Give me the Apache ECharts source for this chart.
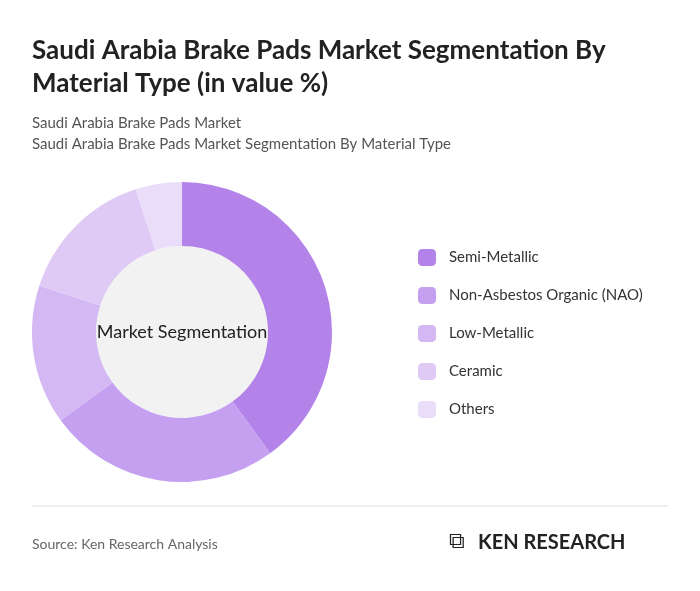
<!DOCTYPE html>
<html>
<head>
<meta charset="utf-8">
<script src="https://cdn.jsdelivr.net/npm/echarts@6/dist/echarts.min.js"></script>
<style>
  body { margin: 0; background: #fff; }
  #chart { width: 700px; height: 591px; }
</style>
</head>
<body>
<div id="chart"></div>
<script>
// 数据
var categories = ['Semi-Metallic', 'Non-Asbestos Organic (NAO)', 'Low-Metallic', 'Ceramic', 'Others'];
var shares = [40, 25, 15, 15, 5];
var colors = ['#b383ea', '#c59ff0', '#d4b8f3', '#dfcaf6', '#e9ddf9'];

var myChart = echarts.init(document.getElementById('chart'));
var font = 'Lato, "Noto Sans", sans-serif';

myChart.setOption({
    textStyle: { fontFamily: font },
    title: [
        { text: 'Saudi Arabia Brake Pads Market Segmentation By\nMaterial Type (in value %)', left: 27, top: 29,
          textStyle: { fontSize: 26, fontWeight: 'bold', color: '#222', lineHeight: 33, fontFamily: font } },
        { text: 'Saudi Arabia Brake Pads Market\nSaudi Arabia Brake Pads Market Segmentation By Material Type', left: 27, top: 108,
          textStyle: { fontSize: 15, fontWeight: 'normal', color: '#555', lineHeight: 21, fontFamily: font } },
        { text: 'Source: Ken Research Analysis', left: 27, top: 532,
          textStyle: { fontSize: 14, fontWeight: 'normal', color: '#666', fontFamily: font } }
    ],
    legend: {
        orient: 'vertical', left: 413, top: 244, itemGap: 21,
        itemWidth: 18, itemHeight: 17, icon: 'roundRect',
        textStyle: { fontSize: 15, color: '#333', fontFamily: font, padding: [0, 0, 0, 8] },
        data: categories
    },
    graphic: [
        { type: 'line', shape: { x1: 32, y1: 506, x2: 668, y2: 506 }, style: { stroke: '#ddd', lineWidth: 1 } },
        { type: 'text', left: 449, top: 531, style: { text: '⧉', fontSize: 22, fill: '#222' } },
        { type: 'text', left: 478, top: 533, style: { text: 'KEN RESEARCH', fontSize: 20, fontWeight: 'bold', fill: '#222', fontFamily: font } }
    ],
    series: [
        {
            type: 'pie', radius: [0, 86], center: [182, 332], silent: true,
            label: { show: true, position: 'center', formatter: 'Market Segmentation', fontSize: 18, color: '#222', fontFamily: font },
            itemStyle: { color: '#f2f2f2' },
            data: [{ value: 1, name: '' }]
        },
        {
            type: 'pie', radius: [86, 150], center: [182, 332], startAngle: 90,
            label: { show: false }, labelLine: { show: false },
            data: categories.map(function (c, i) {
                return { name: c, value: shares[i], itemStyle: { color: colors[i] } };
            })
        }
    ]
});
</script>
</body>
</html>
